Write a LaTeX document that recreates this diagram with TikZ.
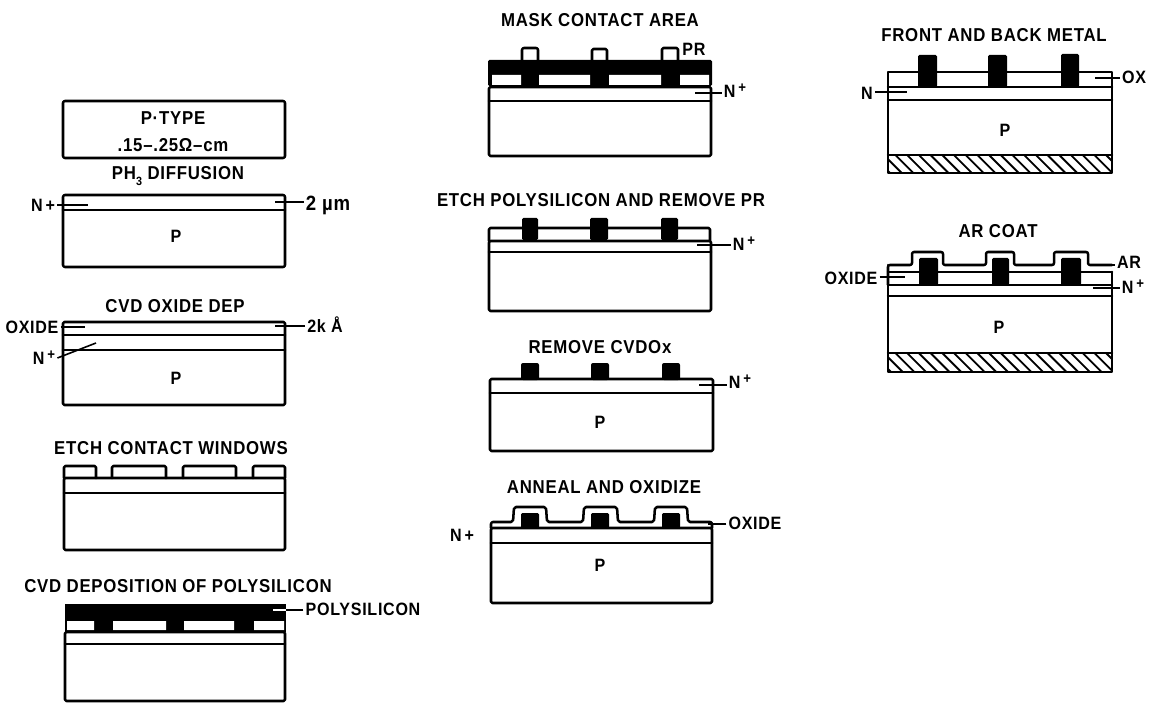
\documentclass[tikz,border=0pt]{standalone}
\usepackage{fontspec}
\setmainfont{Liberation Sans}[FakeStretch=0.9,LetterSpace=4,BoldFont={Liberation Sans Bold}]
\newcommand{\upplus}[1]{\,\raisebox{4pt}{\fontsize{11pt}{12pt}\selectfont\bfseries #1}}
\tikzset{
  ln/.style={line width=1.9pt,line join=round,line cap=round},
  ttl/.style={font=\bfseries\fontsize{14pt}{16pt}\selectfont,inner sep=1pt},
  lbl/.style={font=\bfseries\fontsize{13.4pt}{16pt}\selectfont,inner sep=1.5pt},
  lead/.style={line width=1.2pt},
  hatchline/.style={line width=1.4pt}
}
\begin{document}
\begin{tikzpicture}[x=0.75pt,y=-0.75pt]
\fill[white] (0,0) rectangle (1151,705);
\useasboundingbox (0,0) rectangle (1151,705);
% ---------- column 1
\draw[ln,rounded corners=1.5pt] (63,101) rectangle (285,158);
\node[ttl] (t1a) at (173,118) {P·TYPE};
\node[ttl] (t1b) at (173,145) {.15–.25Ω–cm};
\node[ttl] (t2) at (178,176) {PH\raisebox{-4pt}{\small 3} DIFFUSION};
\draw[ln,rounded corners=1.5pt] (63,195) rectangle (285,267);
\draw[ln] (63,210) -- (285,210);
\node[lbl] (p2) at (176,236) {P};
\node[lbl] (n2) at (43,205) {N\,+};
\coordinate (n2e) at (88,205);
\draw[lead] (n2.east |- n2e) -- (n2e);
\node[lbl,font=\bfseries\fontsize{15.5pt}{16pt}\selectfont] (um) at (328,205) {2 µm};
\coordinate (ume) at (275,202);
\draw[lead] (um.west |- ume) -- (ume);

\node[ttl] (t3) at (175,306) {CVD OXIDE DEP};
\draw[ln,rounded corners=1pt] (63,322) rectangle (285,405);
\draw[ln] (63,335) -- (285,335) (63,350) -- (285,350);
\node[lbl] (p3) at (176,378) {P};
\node[lbl] (ox3) at (32,327) {OXIDE};
\coordinate (ox3e) at (85,327);
\draw[lead] (ox3.east |- ox3e) -- (ox3e);
\node[lbl] (n3) at (44,358) {N\upplus{+}};
\coordinate (n3e) at (96,343);
\draw[lead] (n3.east) -- (n3e);
\node[lbl] (k3) at (325,325) {2k Å};
\coordinate (k3e) at (275,326);
\draw[lead] (k3.west |- k3e) -- (k3e);

\node[ttl] (t4) at (171,448) {ETCH CONTACT WINDOWS};
\draw[ln,rounded corners=1pt] (64,478) -- (64,466) -- (96,466) -- (96,478);
\draw[ln,rounded corners=1pt] (112,478) -- (112,466) -- (166,466) -- (166,478);
\draw[ln,rounded corners=1pt] (183,478) -- (183,466) -- (236,466) -- (236,478);
\draw[ln,rounded corners=1pt] (253,478) -- (253,466) -- (285,466) -- (285,478);
\draw[ln,rounded corners=1pt] (64,478) rectangle (285,550);
\draw[ln] (64,493) -- (285,493);

\node[ttl] (t5) at (178,586) {CVD DEPOSITION OF POLYSILICON};
\fill[black] (65,604) rectangle (286,632);
\fill[white] (67,621) rectangle (94,630) (113,621) rectangle (166,630)
             (184,621) rectangle (234,630) (254,621) rectangle (284,630);
\draw[ln,rounded corners=1pt] (65,632) rectangle (285,701);
\draw[ln] (65,644) -- (285,644);
\node[lbl] (poly) at (363,609) {POLYSILICON};
\coordinate (polye) at (286,610);
\coordinate (polyw) at (273,610);
\draw[lead] (poly.west |- polye) -- (polye);
\draw[lead,white] (polye) -- (polyw);
% ---------- column 2
\node[ttl] (t6) at (600,20) {MASK CONTACT AREA};
\draw[ln,rounded corners=1.5pt] (522,60) -- (522,48) -- (538,48) -- (538,60);
\draw[ln,rounded corners=1pt] (592,60) -- (592,49) -- (607,49) -- (607,60);
\draw[ln,rounded corners=1pt] (662,60) -- (662,48) -- (678,48) -- (678,60);
\fill[black,rounded corners=1pt] (488,60) rectangle (712,86);
\fill[white] (492,75) rectangle (521,85) (539,75) rectangle (590,85)
             (609,75) rectangle (661,85) (680,75) rectangle (709,85);
\draw[ln,rounded corners=1pt] (489,87) rectangle (711,156);
\draw[ln] (489,101) -- (711,101);
\node[lbl] (pr6) at (694,49) {PR};
\node[lbl] (n6) at (735,91) {N\upplus{+}};
\coordinate (n6e) at (695,93);
\draw[lead] (n6.west |- n6e) -- (n6e);

\node[ttl] (t7) at (601,200) {ETCH POLYSILICON AND REMOVE PR};
\draw[ln,rounded corners=1pt] (489,241) -- (489,228) -- (710,228) -- (710,241);
\fill[black,rounded corners=1pt] (522,218) rectangle (538,240) (590,218) rectangle (608,240) (661,218) rectangle (678,240);
\draw[ln,rounded corners=1pt] (489,241) rectangle (711,311);
\draw[ln] (489,252) -- (711,252);
\node[lbl] (n7) at (744,244) {N\upplus{+}};
\coordinate (n7e) at (697,245);
\draw[lead] (n7.west |- n7e) -- (n7e);

\node[ttl] (t8) at (600,347) {REMOVE CVDOx};
\fill[black,rounded corners=1.5pt] (521,363) rectangle (539,380) (591,363) rectangle (609,380) (662,363) rectangle (680,380);
\draw[ln,rounded corners=1pt] (490,379) rectangle (713,451);
\draw[ln] (490,393) -- (713,393);
\node[lbl] (p8) at (600,422) {P};
\node[lbl] (n8) at (740,382) {N\upplus{+}};
\coordinate (n8e) at (699,385);
\draw[lead] (n8.west |- n8e) -- (n8e);

\node[ttl] (t9) at (604,487) {ANNEAL AND OXIDIZE};
\draw[ln,rounded corners=1.5pt] (491,528) -- (491,522) -- (513,522) -- (514,507) -- (546,507) -- (547,522)
  -- (583,522) -- (584,507) -- (617,507) -- (618,522) -- (654,522) -- (655,507) -- (687,507) -- (688,522) -- (712,522) -- (712,528);
\fill[black,rounded corners=1pt] (521,513) rectangle (539,528) (591,513) rectangle (609,528) (662,513) rectangle (680,528);
\draw[ln,rounded corners=1pt] (491,528) rectangle (712,603);
\draw[ln] (491,543) -- (712,543);
\node[lbl] (p9) at (600,565) {P};
\node[lbl] (n9) at (462,535) {N\,+};
\node[lbl] (ox9) at (755,523) {OXIDE};
\coordinate (ox9e) at (708,524);
\draw[lead] (ox9.west |- ox9e) -- (ox9e);
% ---------- column 3
\node[ttl] (t10) at (994,35) {FRONT AND BACK METAL};
\draw[ln] (888,87) -- (888,72) -- (1112,72) -- (1112,87);
\fill[black,rounded corners=1pt] (918,55) rectangle (937,87) (988,55) rectangle (1007,87) (1061,54) rectangle (1079,87);
\draw[ln] (888,87) -- (1112,87) (888,100) -- (1112,100) (888,155) -- (1112,155);
\draw[ln] (888,87) -- (888,173) -- (1112,173) -- (1112,87);
\begin{scope}
\clip (888,155) rectangle (1112,173);
\foreach \h in {0,...,20} \draw[hatchline] ({872+\h*11.7},155) -- ++(18,18);
\end{scope}
\node[lbl] (p10) at (1005,130) {P};
\node[lbl] (ox10) at (1134,77) {OX};
\coordinate (ox10e) at (1095,78);
\draw[lead] (ox10.west |- ox10e) -- (ox10e);
\node[lbl] (n10) at (867,93) {N};
\coordinate (n10e) at (907,92);
\draw[lead] (n10.east |- n10e) -- (n10e);

\node[ttl] (t11) at (998,231) {AR COAT};
\draw[ln,rounded corners=1.5pt] (888,285) -- (888,265) -- (912,265) -- (912,252) -- (943,252) -- (943,265)
  -- (986,265) -- (986,252) -- (1014,252) -- (1014,265) -- (1054,265) -- (1054,252) -- (1088,252) -- (1088,265) -- (1112,265);
\draw[ln] (888,272) -- (1112,272);
\fill[black,rounded corners=1pt] (919,258) rectangle (938,285) (992,258) rectangle (1009,285) (1061,258) rectangle (1081,285);
\draw[ln] (888,285) -- (1112,285) (888,296) -- (1112,296) (888,353) -- (1112,353);
\draw[ln] (888,265) -- (888,372) -- (1112,372) -- (1112,272);
\begin{scope}
\clip (888,353) rectangle (1112,372);
\foreach \h in {0,...,20} \draw[hatchline] ({872+\h*11.7},353) -- ++(19,19);
\end{scope}
\node[lbl] (p11) at (999,327) {P};
\node[lbl] (ox11) at (851,278) {OXIDE};
\coordinate (ox11e) at (905,277);
\draw[lead] (ox11.east |- ox11e) -- (ox11e);
\node[lbl] (ar11) at (1129,262) {AR};
\coordinate (ar11e) at (1098,265);
\draw[lead] (ar11.west |- ar11e) -- (ar11e);
\node[lbl] (n11) at (1133,287) {N\upplus{+}};
\coordinate (n11e) at (1093,288);
\draw[line width=2.2pt] (n11.west |- n11e) -- (n11e);
\end{tikzpicture}
\end{document}
